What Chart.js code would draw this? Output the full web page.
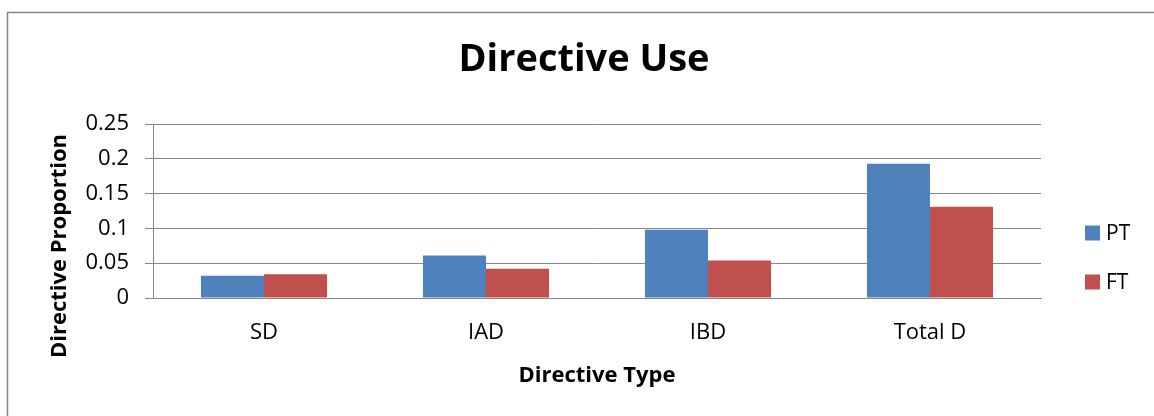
<!DOCTYPE html>
<html>
<head>
<meta charset="utf-8">
<title>Directive Use</title>
<script src="https://cdn.jsdelivr.net/npm/chart.js@4/dist/chart.umd.min.js"></script>
<style>
  html, body { margin: 0; padding: 0; background: #ffffff; }
  #wrap { position: relative; width: 1154px; height: 416px; overflow: hidden; }
  canvas { display: block; }
</style>
</head>
<body>
<div id="wrap"><canvas id="chart" width="1154" height="416"></canvas></div>
<script>
// Directive proportions by type, part-time (PT) vs full-time (FT)
const categories = ['SD', 'IAD', 'IBD', 'Total D'];
const seriesNames = ['PT', 'FT'];
const ptValues = [0.032, 0.061, 0.098, 0.193];
const ftValues = [0.034, 0.042, 0.054, 0.131];
const yTickLabels = ['0', '0.05', '0.1', '0.15', '0.2', '0.25'];

const chartTitle = 'Directive Use';
const xTitle = 'Directive Type';
const yTitle = 'Directive Proportion';

const FONT = "'Open Sans', 'Noto Sans', sans-serif";
const GRID = '#878787';
const colors = ['#4F81BD', '#C0504D'];

// Outer frame, title, y-axis title and the side legend
const decorations = {
  id: 'decorations',
  beforeDraw(chart) {
    const ctx = chart.ctx;
    ctx.save();
    ctx.fillStyle = '#ffffff';
    ctx.fillRect(0, 0, chart.width, chart.height);
    ctx.strokeStyle = '#858585';
    ctx.lineWidth = 1.5;
    ctx.beginPath();
    ctx.moveTo(7.5, chart.height + 5);
    ctx.lineTo(7.5, 12.5);
    ctx.lineTo(chart.width + 5, 12.5);
    ctx.stroke();
    ctx.restore();
  },
  afterDraw(chart) {
    const ctx = chart.ctx;
    ctx.save();
    ctx.fillStyle = '#000000';

    // chart title
    ctx.font = "bold 38px " + FONT;
    ctx.textAlign = 'center';
    ctx.textBaseline = 'middle';
    ctx.fillText(chartTitle, 584, 60);

    // y-axis title
    ctx.save();
    ctx.translate(60, 246);
    ctx.rotate(-Math.PI / 2);
    ctx.font = "bold 22px " + FONT;
    ctx.textAlign = 'center';
    ctx.textBaseline = 'middle';
    ctx.fillText(yTitle, 0, 0);
    ctx.restore();

    // legend
    const lx = 1085;
    const ly = [233, 282];
    chart.data.datasets.forEach((ds, i) => {
      ctx.fillStyle = ds.backgroundColor;
      ctx.fillRect(lx, ly[i] - 7.5, 15, 15);
      ctx.fillStyle = '#000000';
      ctx.font = "21px " + FONT;
      ctx.textAlign = 'left';
      ctx.textBaseline = 'middle';
      ctx.fillText(ds.label, lx + 21, ly[i] + 1);
    });
    ctx.restore();
  }
};

new Chart(document.getElementById('chart'), {
  type: 'bar',
  data: {
    labels: categories,
    datasets: [
      { label: seriesNames[0], data: ptValues, backgroundColor: colors[0] },
      { label: seriesNames[1], data: ftValues, backgroundColor: colors[1] }
    ]
  },
  options: {
    responsive: false,
    animation: false,
    events: [],
    layout: { padding: { left: 0, top: 124, right: 113, bottom: 0 } },
    datasets: {
      bar: { categoryPercentage: 0.568, barPercentage: 1.0, borderWidth: 0 }
    },
    plugins: {
      legend: { display: false },
      title: { display: false },
      tooltip: { enabled: false }
    },
    scales: {
      x: {
        grid: { display: false, drawTicks: false },
        border: { display: true, color: GRID, width: 1 },
        ticks: {
          color: '#000000',
          font: { family: FONT, size: 22 },
          padding: 22
        },
        title: {
          display: true,
          text: xTitle,
          color: '#000000',
          font: { family: FONT, size: 22, weight: 'bold' },
          padding: { top: 0, bottom: 27 }
        },
        afterFit(scale) { scale.height = 118; }
      },
      y: {
        min: 0,
        max: 0.25,
        ticks: {
          stepSize: 0.05,
          color: '#000000',
          font: { family: FONT, size: 22 },
          padding: 16,
          callback: (v, i) => yTickLabels[i]
        },
        grid: { color: GRID, lineWidth: 1, drawTicks: true, tickLength: 8 },
        border: { display: true, color: GRID, width: 1 },
        afterFit(scale) { scale.width = 153; }
      }
    }
  },
  plugins: [decorations]
});
</script>
</body>
</html>
